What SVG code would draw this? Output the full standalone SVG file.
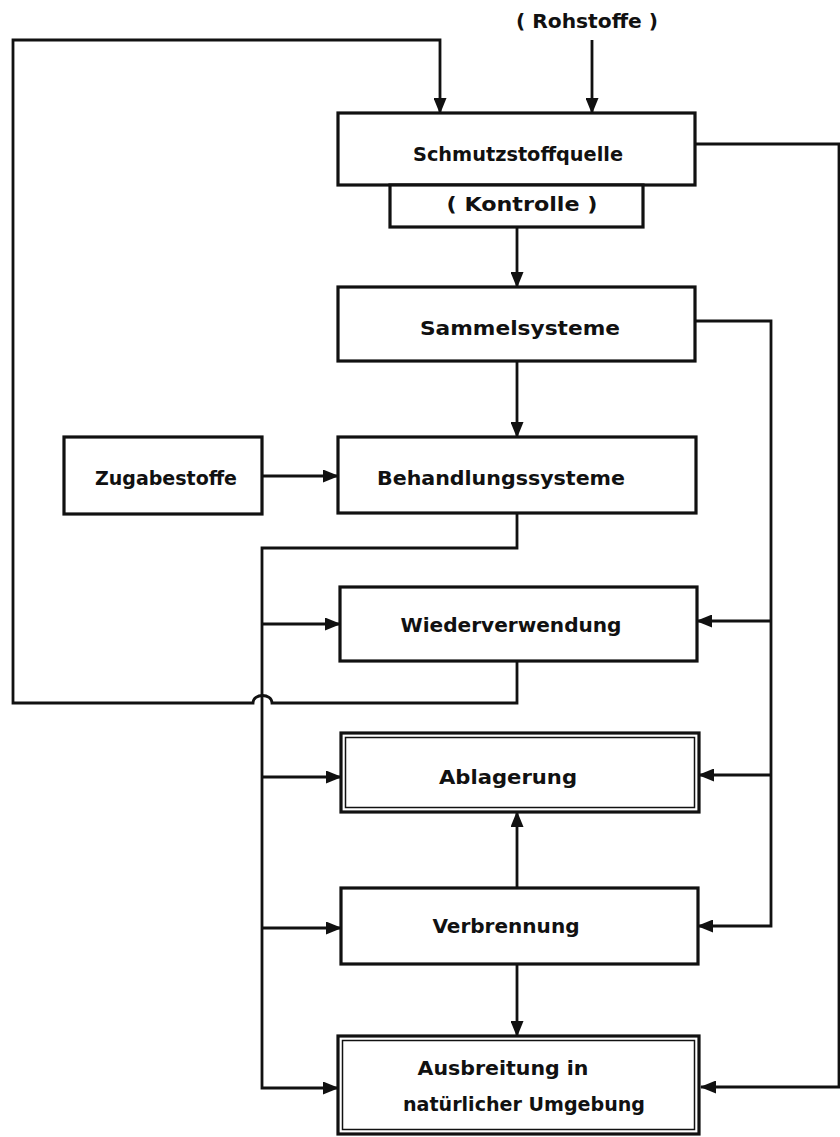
<svg xmlns="http://www.w3.org/2000/svg" width="840" height="1137" viewBox="0 0 840 1137">
<defs>
<marker id="ah" markerUnits="userSpaceOnUse" markerWidth="16" markerHeight="13" refX="15" refY="6.5" orient="auto">
<path d="M0,0 L16,6.5 L0,13 Z" fill="#111"/>
</marker>
<style>
.box{fill:#fff;stroke:#111;stroke-width:3.2}
.inner{fill:none;stroke:#111;stroke-width:1.5}
.arr{fill:none;stroke:#111;stroke-width:2.8;marker-end:url(#ah)}
text{font-family:"DejaVu Sans Condensed","Liberation Sans Narrow","Liberation Sans",sans-serif;font-weight:bold;font-size:19px;fill:#111;text-anchor:middle}
</style>
</defs>
<rect width="840" height="1137" fill="#fff"/>
<g id="connectors">
<path class="arr" d="M517,661 V703 H272 C272,693 253,693 253,703 H13 V40 H440 V113"/>
<path class="arr" d="M592,40 V113"/>
<path class="arr" d="M695,144 H839 V1087 H701"/>
<path class="arr" d="M517,227 V287"/>
<path class="arr" d="M517,361 V437"/>
<path class="arr" d="M262,476 H338"/>
<path class="arr" d="M695,321 H771 V926 H698"/>
<path class="arr" d="M771,621 H697"/>
<path class="arr" d="M771,775 H699"/>
<path class="arr" d="M517,513 V548 H262 V1088 H338"/>
<path class="arr" d="M262,624 H340"/>
<path class="arr" d="M262,777 H341"/>
<path class="arr" d="M262,928 H341"/>
<path class="arr" d="M517,888 V812"/>
<path class="arr" d="M517,964 V1036"/>
</g>
<g id="rohstoffe"><text x="587" y="28" textLength="142" lengthAdjust="spacingAndGlyphs">( Rohstoffe )</text></g>
<g id="schmutzstoffquelle"><rect class="box" x="338" y="113" width="357" height="72"/><text x="518" y="161" textLength="210" lengthAdjust="spacingAndGlyphs">Schmutzstoffquelle</text></g>
<g id="kontrolle"><rect class="box" x="390" y="185" width="253" height="42"/><text x="522" y="211" textLength="151" lengthAdjust="spacingAndGlyphs">( Kontrolle )</text></g>
<g id="sammelsysteme"><rect class="box" x="338" y="287" width="357" height="74"/><text x="520" y="335" textLength="200" lengthAdjust="spacingAndGlyphs">Sammelsysteme</text></g>
<g id="zugabestoffe"><rect class="box" x="64" y="437" width="198" height="77"/><text x="166" y="485" textLength="142" lengthAdjust="spacingAndGlyphs">Zugabestoffe</text></g>
<g id="behandlungssysteme"><rect class="box" x="338" y="437" width="358" height="76"/><text x="501" y="485" textLength="248" lengthAdjust="spacingAndGlyphs">Behandlungssysteme</text></g>
<g id="wiederverwendung"><rect class="box" x="340" y="587" width="357" height="74"/><text x="511" y="632" textLength="221" lengthAdjust="spacingAndGlyphs">Wiederverwendung</text></g>
<g id="ablagerung"><rect class="box" x="341" y="733" width="358" height="79"/><rect class="inner" x="345.5" y="737.5" width="349" height="70"/><text x="508" y="784" textLength="138" lengthAdjust="spacingAndGlyphs">Ablagerung</text></g>
<g id="verbrennung"><rect class="box" x="341" y="888" width="357" height="76"/><text x="506" y="933" textLength="147" lengthAdjust="spacingAndGlyphs">Verbrennung</text></g>
<g id="ausbreitung"><rect class="box" x="338" y="1036" width="361" height="98"/><rect class="inner" x="342.5" y="1040.5" width="352" height="89"/><text x="503" y="1075" textLength="171" lengthAdjust="spacingAndGlyphs">Ausbreitung in</text><text x="524" y="1111" textLength="242" lengthAdjust="spacingAndGlyphs">natürlicher Umgebung</text></g>
</svg>
